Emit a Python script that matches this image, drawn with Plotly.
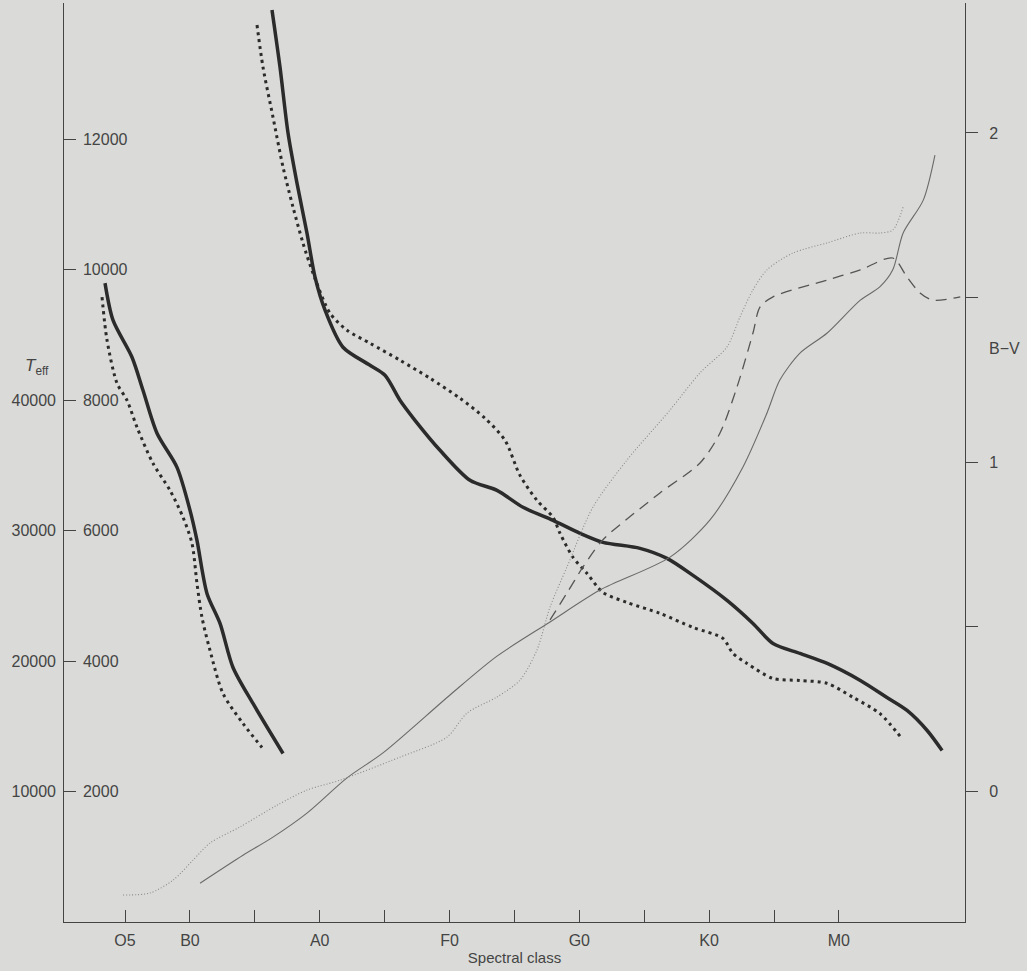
import plotly.graph_objects as go

# Spectral class index: O5=0, B0=1, B5=2, A0=3, A5=4, F0=5, F5=6, G0=7, G5=8, K0=9, K5=10, M0=11
tick_pos = list(range(12))
tick_text = ["O5", "B0", "", "A0", "", "F0", "", "G0", "", "K0", "", "M0"]

# Hot stars, Teff on outer scale (10000-40000)
hot_solid_x = [-0.308, -0.185, 0.108, 0.277, 0.493, 0.801, 1.002, 1.109, 1.263, 1.464, 1.664, 1.972, 2.435]
hot_solid_t = [48966, 46126, 43288, 40757, 37459, 34850, 31553, 29252, 25186, 22886, 19511, 16749, 12915]
hot_dot_x = [-0.354, -0.277, -0.123, 0.031, 0.185, 0.431, 0.693, 0.894, 1.032, 1.109, 1.186, 1.310, 1.510, 1.818, 2.111]
hot_dot_t = [47890, 44592, 41294, 39990, 37918, 35158, 33087, 31016, 29022, 25954, 23346, 20815, 17516, 15215, 13375]

# Cooler stars, Teff on inner scale (2000-12000)
cool_solid_x = [2.265, 2.388, 2.512, 2.650, 2.804, 2.928, 3.082, 3.359, 3.775, 4.006, 4.237, 4.468, 4.854,
                5.316, 5.732, 6.133, 6.595, 7.011, 7.365, 7.935, 8.351, 8.752, 9.276, 9.676, 9.985,
                10.40, 10.82, 11.33, 11.74, 12.05, 12.36, 12.59]
cool_solid_t = [13981, 13106, 12094, 11327, 10560, 9885, 9379, 8811, 8535, 8381, 7998, 7691, 7231,
                6771, 6617, 6357, 6157, 5958, 5820, 5728, 5574, 5313, 4930, 4577, 4270,
                4117, 3964, 3703, 3442, 3243, 2936, 2629]
cool_dot_x = [2.034, 2.126, 2.280, 2.435, 2.589, 2.743, 2.897, 3.159, 3.421, 3.775, 4.237, 4.700, 5.162,
              5.547, 5.855, 6.086, 6.348, 6.595, 6.703, 6.903, 7.119, 7.365, 7.735, 8.243, 8.752,
              9.214, 9.368, 9.584, 9.985, 10.40, 10.82, 11.22, 11.63, 11.97]
cool_dot_t = [13750, 13106, 12339, 11572, 10959, 10406, 9946, 9333, 9072, 8872, 8612, 8335, 8029,
              7722, 7384, 6847, 6464, 6203, 5958, 5590, 5344, 5053, 4899, 4731, 4516,
              4347, 4117, 3964, 3733, 3703, 3657, 3442, 3197, 2813]

# B-V colour index curves
bv_solid_x = [1.156, 1.818, 2.280, 2.804, 3.421, 3.975, 5.008, 5.732, 6.549, 7.319, 8.398, 9.014, 9.522,
              9.892, 10.09, 10.40, 10.82, 11.33, 11.63, 11.83, 11.99, 12.30, 12.48]
bv_solid_y = [-0.280, -0.195, -0.140, -0.067, 0.040, 0.116, 0.292, 0.410, 0.514, 0.611, 0.711, 0.824, 0.985,
              1.149, 1.249, 1.331, 1.392, 1.492, 1.532, 1.584, 1.696, 1.796, 1.933]
bv_dot_x = [-0.031, 0.385, 0.740, 1.048, 1.310, 1.772, 2.342, 2.804, 3.313, 4.237, 4.961, 5.270, 5.732,
            6.086, 6.348, 6.549, 6.810, 7.211, 7.735, 8.398, 8.860, 9.276, 9.476, 9.676, 9.892,
            10.29, 10.82, 11.33, 11.63, 11.83, 11.99]
bv_dot_y = [-0.316, -0.310, -0.271, -0.210, -0.158, -0.109, -0.043, 0.003, 0.033, 0.103, 0.164, 0.237, 0.286,
            0.337, 0.429, 0.559, 0.681, 0.863, 1.006, 1.158, 1.271, 1.350, 1.441, 1.523, 1.584,
            1.635, 1.666, 1.696, 1.696, 1.705, 1.775]
bv_dash_x = [6.549, 6.810, 7.057, 7.319, 7.473, 8.243, 8.860, 9.168, 9.430, 9.676, 9.784, 9.985,
             10.82, 11.33, 11.83, 12.05, 12.25, 12.45, 12.87]
bv_dash_y = [0.520, 0.602, 0.681, 0.754, 0.784, 0.906, 0.997, 1.088, 1.228, 1.392, 1.471, 1.502,
             1.553, 1.584, 1.620, 1.562, 1.514, 1.492, 1.502]

inner_ticks = [2000, 4000, 6000, 8000, 10000, 12000]
inner_text = ["2000", "4000", "6000", "8000", "10000", "12000"]
outer_ticks = [10000, 20000, 30000, 40000]
outer_text = ["10000", "20000", "30000", "40000"]
bv_ticks = [0, 0.5, 1, 1.5, 2]
bv_text = ["0", "", "1", "", "2"]

X_RANGE = [-0.94, 12.943]
T_RANGE = [0, 14088]
T_OUT_RANGE = [0, 5 * 14088]
BV_RANGE = [-0.398, 2.395]

INK = "#2b2b2b"
TXT = "#444444"
BG = "#dadbd8"
FONT = "Liberation Sans, Arial, sans-serif"

fig = go.Figure()

def add(x, y, axis, color, width, dash):
    fig.add_trace(go.Scatter(x=x, y=y, yaxis=axis, mode="lines",
                             line=dict(color=color, width=width, dash=dash, shape="spline", smoothing=0.8),
                             hoverinfo="skip", showlegend=False))

add(hot_solid_x, hot_solid_t, "y2", INK, 3.5, "solid")
add(hot_dot_x, hot_dot_t, "y2", INK, 3, "3px,4px")
add(cool_solid_x, cool_solid_t, "y", INK, 3.5, "solid")
add(cool_dot_x, cool_dot_t, "y", INK, 3, "3px,4px")
add(bv_solid_x, bv_solid_y, "y3", "#6a6a6a", 1.1, "solid")
add(bv_dot_x, bv_dot_y, "y3", "#8a8a8a", 1.1, "1px,2px")
add(bv_dash_x, bv_dash_y, "y3", "#555555", 1.3, "11px,7px")
# the cool Teff curve also registered on the label axis (invisible) so that axis is drawn
fig.add_trace(go.Scatter(x=cool_solid_x, y=cool_solid_t, yaxis="y4", mode="lines",
                         line=dict(color="rgba(0,0,0,0)", width=0), hoverinfo="skip", showlegend=False))

axis_font = dict(family=FONT, size=16, color=TXT)

fig.update_layout(
    width=1027, height=971,
    margin=dict(l=64, r=62, t=3, b=49),
    paper_bgcolor=BG, plot_bgcolor=BG,
    font=axis_font,
    xaxis=dict(range=X_RANGE, tickvals=tick_pos, ticktext=tick_text, ticks="inside", ticklen=12,
               tickcolor=TXT, tickwidth=1, showline=True, linecolor=TXT, linewidth=1.3,
               showgrid=False, zeroline=False, tickfont=axis_font, ticklabelstandoff=4,
               title=dict(text="Spectral class", font=dict(family=FONT, size=15, color=TXT), standoff=4)),
    yaxis=dict(range=T_RANGE, tickvals=inner_ticks, ticks="inside", ticklen=12, tickcolor=TXT,
               showticklabels=False, showline=True, linecolor=TXT, linewidth=1.3,
               showgrid=False, zeroline=False),
    yaxis4=dict(range=T_RANGE, tickvals=inner_ticks, ticktext=inner_text, overlaying="y", side="right",
                anchor="free", position=0.0133, ticks="", showline=False, showgrid=False, zeroline=False,
                ticklabelstandoff=6, tickfont=axis_font, automargin=False),
    yaxis2=dict(range=T_OUT_RANGE, tickvals=outer_ticks, ticktext=outer_text, overlaying="y", side="left",
                anchor="x", ticks="", showline=False, showgrid=False, zeroline=False, ticklabelstandoff=7,
                tickfont=axis_font, automargin=False),
    yaxis3=dict(range=BV_RANGE, tickvals=bv_ticks, ticktext=bv_text, overlaying="y", side="right",
                anchor="x", ticks="outside", ticklen=12, tickcolor=TXT, showline=True, linecolor=TXT,
                linewidth=1.3, showgrid=False, zeroline=False, ticklabelstandoff=8, tickfont=axis_font,
                automargin=False),
    annotations=[
        dict(text="<i>T</i><sub>eff</sub>", xref="paper", yref="paper", x=-0.045, y=0.604,
             xanchor="left", yanchor="middle", showarrow=False, font=dict(family=FONT, size=17, color=TXT)),
        dict(text="B\u2212V", xref="paper", yref="paper", x=1.024, y=0.624,
             xanchor="left", yanchor="middle", showarrow=False, font=axis_font),
    ],
)

fig.write_html("out.html")
